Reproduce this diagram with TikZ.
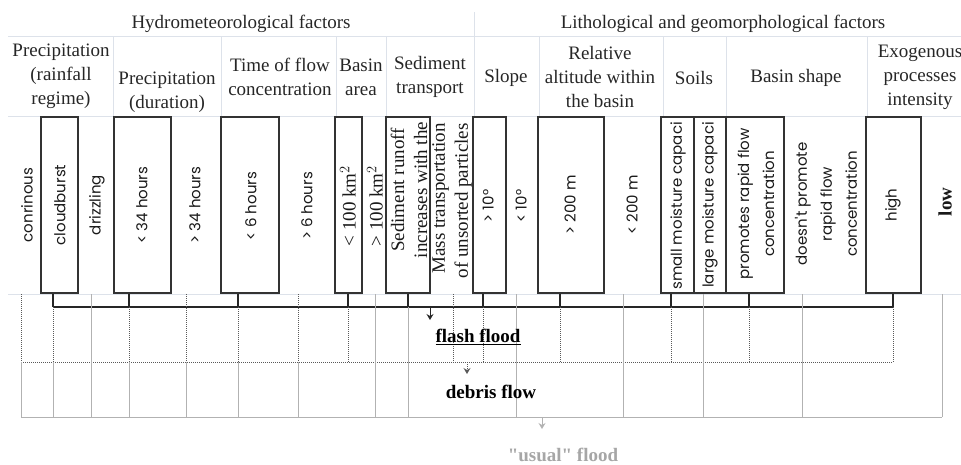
\documentclass[tikz,border=0pt]{standalone}
\usepackage{fontspec}
\setmainfont{Liberation Serif}
\newfontfamily\gothic{Poppins}
\usetikzlibrary{calc,arrows.meta}
\definecolor{gridblue}{HTML}{DDE2EA}

\begin{document}
\begin{tikzpicture}[x=1pt,y=-1pt,>={Stealth[length=6pt,width=7pt,inset=2pt]},
  box/.style={draw=black!80,line width=1.3pt,minimum height=176pt,inner sep=0pt},
  grid/.style={draw=gridblue,line width=0.8pt},
  hdr/.style={align=center,text=black!85,inner sep=0pt,font=\rmfamily\fontsize{19}{24}\selectfont},
  opt/.style={rotate=90,align=center,text=black!90,inner sep=0pt,font=\gothic\fontsize{15}{25}\selectfont},
  optrm/.style={rotate=90,align=center,text=black!90,inner sep=0pt,font=\rmfamily\fontsize{19}{23}\selectfont},
  bus/.style={draw=black!85,line width=1.3pt},
  debris/.style={draw=black!65,line width=1pt,densely dotted},
  usual/.style={draw=black!30,line width=1pt},
  result/.style={font=\rmfamily\bfseries\fontsize{19}{22}\selectfont}]
\useasboundingbox (0,0) rectangle (961,464);

% table rules
\draw[grid] (8,36) -- (961,36) (8,116) -- (961,116) (8,294) -- (961,294);
\draw[grid] (474,12) -- (474,116);
\foreach \x in {113,221,336,386,539,663,726,867}
  \draw[grid] (\x,36) -- (\x,116);

\node (H1) at (241,24) [hdr] {Hydrometeorological factors};
\node (H2) at (723,24) [hdr] {Lithological and geomorphological factors};

\node (C1) at (61,76) [hdr] {Precipitation\\(rainfall\\regime)};
\node (C2) at (167,92) [hdr] {Precipitation\\(duration)};
\node (C3) at (280,77) [hdr] {Time of flow\\concentration};
\node (C4) at (361,77) [hdr] {Basin\\area};
\node (C5) at (430,77) [hdr] {Sediment\\transport};
\node (C6) at (506,78) [hdr] {Slope};
\node (C7) at (600,77) [hdr] {Relative\\altitude within\\the basin};
\node (C8) at (694,78) [hdr] {Soils};
\node (C9) at (796,78) [hdr] {Basin shape};
\node (C10) at (920,77) [hdr] {Exogenous\\processes\\intensity};

% chosen options
\node (B1) at (59.5,205) [box,minimum width=37pt] {};
\node (B2) at (142.5,205) [box,minimum width=57pt] {};
\node (B3) at (250,205) [box,minimum width=58pt] {};
\node (B4) at (348.5,205) [box,minimum width=27pt] {};
\node (B5) at (408,205) [box,minimum width=44pt] {};
\node (B6) at (489.5,205) [box,minimum width=33pt] {};
\node (B7) at (571,205) [box,minimum width=66pt] {};
\node (B8) at (677.5,205) [box,minimum width=33pt] {};
\node (B9) at (710,205) [box,minimum width=32pt] {};
\node (B10) at (755,205) [box,minimum width=58pt] {};
\node (B11) at (893.5,205) [box,minimum width=55pt] {};

\node (L1) at (27,205) [opt] {conrinous};
\node (L2) at (60,205) [opt] {cloudburst};
\node (L3) at (97,205) [opt] {drizzling};
\node (L4) at (142,205) [opt] {< 34 hours};
\node (L5) at (195,205) [opt] {> 34 hours};
\node (L6) at (251,206) [opt] {< 6 hours};
\node (L7) at (307,206) [opt] {> 6 hours};
\node (L8) at (348,206) [optrm] {< 100 km$^2$};
\node (L9) at (375,206) [optrm] {> 100 km$^2$};
\node (L10) at (409,190) [optrm] {Sediment runoff\\increases with the};
\node (L11) at (452,123) [optrm,anchor=east,align=right] {Mass transportation\\of unsorted particles};
\node (L12) at (488,206) [opt] {> 10°};
\node (L13) at (521,206) [opt] {< 10°};
\node (L14) at (570,205) [opt] {> 200 m};
\node (L15) at (632,205) [opt] {< 200 m};
\node (L16) at (678,290) [opt,anchor=west] {small moisture capaci};
\node (L17) at (710,288) [opt,anchor=west] {large moisture capaci};
\node (L18) at (756,204) [opt] {promotes rapid flow\\concentration};
\node (L19) at (826,204) [opt] {doesn't promote\\rapid flow\\concentration};
\node (L20) at (893,205) [opt] {high};
\node (L21) at (945,202) [optrm,font=\rmfamily\bfseries\fontsize{19}{23}\selectfont] {low};

% flash flood
\coordinate (S1) at (53,307);
\coordinate (S2) at (129,307);
\coordinate (S3) at (238,307);
\coordinate (S4) at (348,307);
\coordinate (S5) at (408,307);
\coordinate (S6) at (483,307);
\coordinate (S7) at (560,307);
\coordinate (S8) at (671,307);
\coordinate (S9) at (749,307);
\coordinate (S10) at (893,307);

\draw[bus] (B1.south -| S1) -- (S1)
  (B2.south -| S2) -- (S2)
  (B3.south -| S3) -- (S3)
  (B4.south -| S4) -- (S4)
  (B5.south -| S5) -- (S5)
  (B6.south -| S6) -- (S6)
  (B7.south -| S7) -- (S7)
  (B8.south -| S8) -- (S8)
  (B10.south -| S9) -- (S9)
  (B11.south -| S10) -- (S10);
\draw[bus] (S1) -- (S10);

% debris flow
\foreach \x in {21,186,298,453}
  \draw[debris] (\x,294) -- (\x,362);
\foreach \x in {53,129,238,348,483,560,671,749,893}
  \draw[debris] (\x,307) -- (\x,362);
\draw[debris] (21,362) -- (893,362);

% usual flood
\foreach \x in {21,53,129,186,238,298}
  \draw[usual] (\x,362) -- (\x,417);
\foreach \x in {91,375,516,623,703,802,942}
  \draw[usual] (\x,294) -- (\x,417);
\draw[usual] (S5) -- (408,417);
\draw[usual] (21,417) -- (942,417);

\coordinate (A1) at (430,307);
\coordinate (A2) at (430,320);
\coordinate (D1) at (467,362);
\coordinate (D2) at (467,374);
\coordinate (U1) at (542,417);
\coordinate (U2) at (542,429);
\draw[bus,line width=1pt,->] (A1) -- (A2);
\draw[debris,->] (D1) -- (D2);
\draw[usual,->] (U1) -- (U2);

\node (FF) at (478,337) [result] {\underline{flash flood}};
\node (DF) at (491,392) [result] {debris flow};
\node (UF) at (563,455) [result,text=black!35] {\addfontfeatures{Ligatures=TeXOff}"usual" flood};

\end{tikzpicture}
\end{document}
